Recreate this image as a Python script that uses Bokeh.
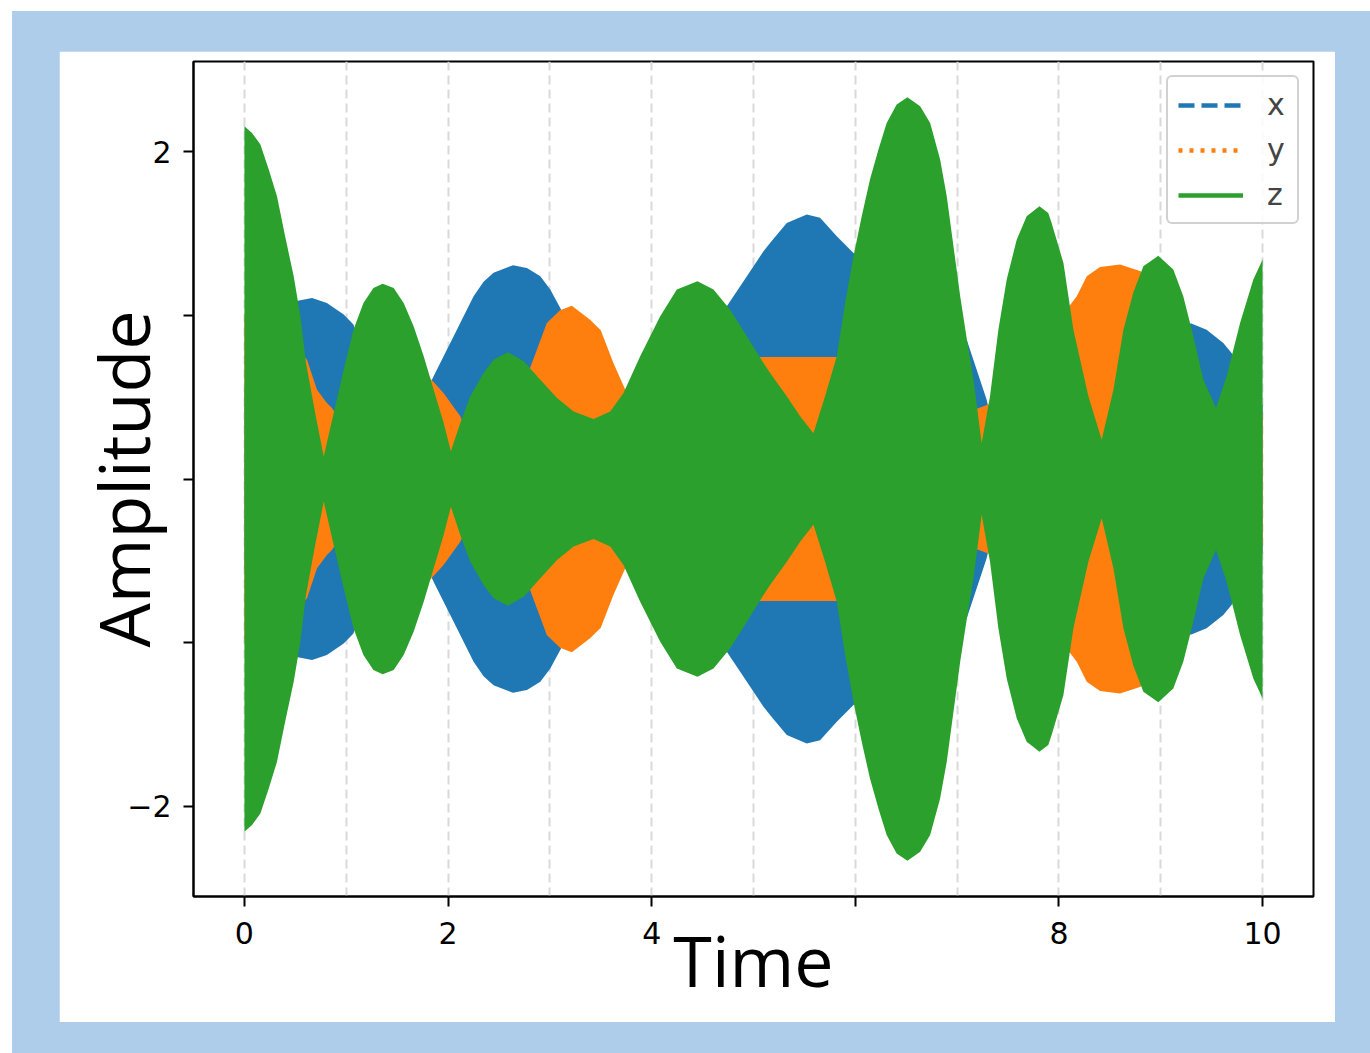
import numpy as np
from bokeh.plotting import figure
from bokeh.layouts import column
from bokeh.models import ColumnDataSource, Range1d, FixedTicker, Legend, LegendItem
from bokeh.embed import file_html
from bokeh.resources import INLINE

# ---------------- data (envelope amplitudes) ----------------
x_t = [0.0, 0.25, 0.5, 0.664, 0.81, 0.975, 1.071, 1.25, 1.45, 1.65, 1.858, 2.055, 2.251, 2.349,
       2.447, 2.637, 2.775, 2.906, 3.004, 3.102, 3.4, 3.9, 4.3, 4.738, 4.935, 5.098, 5.163, 5.327, 5.523,
       5.654, 5.818, 5.982, 6.5, 7.094, 7.29, 7.45, 8.0, 8.5, 9.0, 9.3, 9.45, 9.614, 9.695, 10.0]
x_amp = [0.55, 0.9, 1.085, 1.106, 1.075, 1.004, 0.943, 0.6, 0.05, 0.35, 0.627, 0.872, 1.116, 1.205,
         1.259, 1.305, 1.289, 1.238, 1.157, 1.045, 0.65, 0.03, 0.5, 1.055, 1.238, 1.391, 1.442, 1.564, 1.615,
         1.595, 1.483, 1.381, 1.13, 0.851, 0.484, 0.05, 0.55, 0.82, 0.93, 0.95, 0.912, 0.83, 0.77, 0.45]

y_t = [0.0, 0.3, 0.615, 0.713, 0.81, 0.86, 1.05, 1.25, 1.6, 1.792, 1.956, 2.12, 2.38, 2.6, 2.824,
       2.97, 3.1, 3.216, 3.395, 3.5, 3.624, 3.755, 3.95, 4.13, 4.4, 4.75, 5.08, 5.5, 5.81, 6.2,
       6.7, 7.2, 7.5, 7.85, 8.175, 8.273, 8.404, 8.6, 8.803, 9.1, 9.45, 9.65, 10.0]
y_amp = [1.0, 0.95, 0.729, 0.545, 0.464, 0.433, 0.25, 0.05, 0.7, 0.637, 0.525, 0.383, 0.02, 0.35, 0.708,
         0.953, 1.03, 1.058, 0.973, 0.909, 0.708, 0.525, 0.25, 0.02, 0.45, 0.745, 0.745, 0.745, 0.745, 0.72,
         0.55, 0.43, 0.5, 0.85, 1.116, 1.238, 1.295, 1.31, 1.269, 0.95, 0.55, 0.15, 0.4]

z_t = [0.0, 0.075, 0.157, 0.239, 0.32, 0.40, 0.484, 0.55, 0.605, 0.695, 0.779, 0.877, 0.975, 1.071,
       1.169, 1.267, 1.358, 1.466, 1.564, 1.662, 1.761, 1.859, 1.957, 2.028, 2.12, 2.218, 2.349, 2.447,
       2.588, 2.744, 2.906, 3.07, 3.233, 3.429, 3.593, 3.723, 3.887, 4.084, 4.247, 4.45, 4.607, 4.771,
       4.935, 5.098, 5.163, 5.327, 5.458, 5.589, 5.703, 5.818, 5.9, 5.982, 6.063, 6.144, 6.227, 6.308,
       6.406, 6.512, 6.637, 6.735, 6.833, 6.898, 6.964, 7.03, 7.096, 7.161, 7.241, 7.323, 7.405, 7.487,
       7.585, 7.683, 7.808, 7.895, 7.928, 8.044, 8.142, 8.289, 8.42, 8.535, 8.633, 8.731, 8.829, 8.976,
       9.123, 9.221, 9.32, 9.418, 9.543, 9.647, 9.779, 9.909, 10.0]
z_amp = [2.155, 2.114, 2.043, 1.89, 1.727, 1.483, 1.238, 0.994, 0.708, 0.403, 0.138, 0.403, 0.668, 0.912,
         1.075, 1.167, 1.193, 1.167, 1.075, 0.933, 0.749, 0.545, 0.342, 0.169, 0.342, 0.505, 0.647, 0.729,
         0.774, 0.719, 0.606, 0.494, 0.413, 0.366, 0.413, 0.525, 0.749, 0.994, 1.157, 1.208, 1.157, 1.034,
         0.872, 0.708, 0.647, 0.505, 0.383, 0.28, 0.505, 0.749, 1.075, 1.36, 1.605, 1.83, 2.012, 2.175,
         2.287, 2.332, 2.277, 2.175, 1.951, 1.727, 1.422, 1.116, 0.851, 0.606, 0.219, 0.505, 0.912, 1.218,
         1.462, 1.605, 1.666, 1.625, 1.564, 1.32, 0.912, 0.505, 0.24, 0.545, 0.912, 1.141, 1.3, 1.364,
         1.279, 1.116, 0.872, 0.606, 0.433, 0.627, 0.953, 1.218, 1.34]

series_names = ["x", "y", "z"]
x_ticks = [0, 2, 4, 6, 8, 10]
x_grid = [0, 1, 2, 3, 4, 5, 6, 7, 8, 9, 10]
y_ticks = [-2, -1, 0, 1, 2]
x_labels = {0: "0", 2: "2", 4: "4", 6: "", 8: "8", 10: "10"}
y_labels = {-2: "\u22122", -1: "", 0: "", 1: "", 2: "2"}

BLUE, ORANGE, GREEN = "#1f77b4", "#ff7f0e", "#2ca02c"

p = figure(width=1276, height=971, output_backend="svg", toolbar_location=None,
           x_range=Range1d(-0.5, 10.5), y_range=Range1d(-2.55, 2.55),
           min_border_left=134, min_border_right=22, min_border_top=10, min_border_bottom=126,
           background_fill_color="white", border_fill_color="white")
p.title.visible = False
p.margin = (40, 35, 31, 47)

p.outline_line_color = "black"
p.outline_line_width = 2

for ax in (p.xaxis[0], p.yaxis[0]):
    ax.axis_line_width = 2
    ax.major_tick_line_width = 2
    ax.major_tick_out = 10
    ax.major_tick_in = 0
    ax.minor_tick_line_color = None
    ax.major_label_text_font = "DejaVu Sans"
    ax.major_label_text_font_size = "30px"
    ax.major_label_text_color = "black"
    ax.axis_label_text_font = "Open Sans"
    ax.axis_label_text_font_size = "70px"
    ax.axis_label_text_font_style = "normal"
    ax.axis_label_text_color = "black"

p.xaxis.ticker = FixedTicker(ticks=x_ticks)
p.xaxis.major_label_overrides = x_labels
p.xaxis.major_label_standoff = 15
p.xaxis.axis_label = "Time"
p.xaxis.axis_label_standoff = -35

p.yaxis.ticker = FixedTicker(ticks=y_ticks)
p.yaxis.major_label_overrides = y_labels
p.yaxis.major_label_standoff = 12
p.yaxis.axis_label = "Amplitude"
p.yaxis.axis_label_standoff = -47

p.xgrid.ticker = FixedTicker(ticks=x_grid)
p.xgrid.grid_line_color = "#d9d9d9"
p.xgrid.grid_line_width = 2
p.xgrid.grid_line_dash = "9 5"
p.ygrid.visible = False

styles = [(x_t, x_amp, BLUE, "16 7"), (y_t, y_amp, ORANGE, "4 7"), (z_t, z_amp, GREEN, "solid")]
items = []
for name, (tt, aa, col, dash) in zip(series_names, styles):
    a = np.array(aa)
    src = ColumnDataSource(dict(t=tt, lo=-a, hi=a))
    p.varea(x="t", y1="lo", y2="hi", source=src, fill_color=col, fill_alpha=1.0)
    # legend key: the series' first sample only (a single point draws no visible line)
    key_src = ColumnDataSource(dict(t=tt[:1], hi=aa[:1]))
    lr = p.line(x="t", y="hi", source=key_src, line_color=col, line_width=4.5, line_dash=dash)
    items.append(LegendItem(label=name, renderers=[lr]))

legend = Legend(items=items, location="top_right", margin=14, padding=10, spacing=10,
                glyph_width=65, glyph_height=34, label_standoff=24,
                label_text_font="DejaVu Sans", label_text_font_size="30px",
                border_line_color="#cccccc", border_line_width=2, border_line_alpha=0.9,
                background_fill_color="white", background_fill_alpha=0.85)
try:
    legend.border_radius = 6
except Exception:
    pass
p.add_layout(legend)

root = column(p, styles={"background-color": "#aecdea", "position": "fixed",
                         "left": "12px", "top": "11px"})

open("out.html", "w").write(file_html(root, INLINE))
